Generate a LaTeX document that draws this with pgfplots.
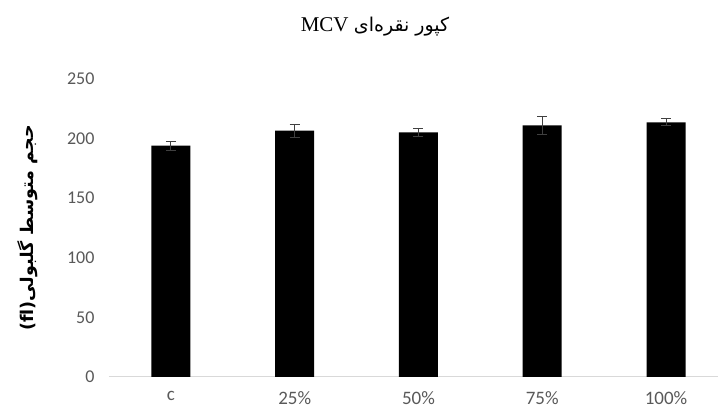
\documentclass[border=0pt]{standalone}
\usepackage{fontspec}
\setmainfont{Liberation Serif}
\newfontfamily\arabicfont[Script=Arabic]{DejaVu Sans}
\newfontfamily\tickfont{Carlito}
\TeXXeTstate=1
\usepackage{pgfplots}
\pgfplotsset{compat=1.18}
\definecolor{tickgray}{HTML}{595959}
\definecolor{axisgray}{HTML}{D9D9D9}
\definecolor{errgray}{HTML}{404040}
\begin{document}
\begin{tikzpicture}
\useasboundingbox (-109pt,-37pt) rectangle (609pt,377pt);
\begin{axis}[
  at={(0pt,0pt)}, anchor=south west,
  scale only axis, width=609pt, height=298pt,
  xmin=-0.5, xmax=4.42, ymin=0, ymax=250,
  axis x line*=bottom, axis y line*=left,
  x axis line style={axisgray, line width=1pt, -},
  y axis line style={draw=none},
  xtick={0,1,2,3,4},
  xticklabels={c,25\%,50\%,75\%,100\%},
  ytick={0,50,100,150,200,250},
  major tick length=0pt,
  tick style={draw=none},
  /pgf/number format/assume math mode=true,
  x tick label style={font=\tickfont\fontsize{19}{19}\selectfont, text=tickgray, yshift=-11pt},
  y tick label style={font=\tickfont\fontsize{18}{18}\selectfont, text=tickgray, xshift=-11pt},
  clip=false,
]
\addplot[ybar, bar width=39pt, fill=black, draw=none,
  error bars/.cd, y dir=both, y explicit,
  error bar style={errgray, line width=1pt},
  error mark options={rotate=90, errgray, mark size=5pt, line width=1pt}]
  coordinates {
  (0,194.0) +- (0,3.7)
  (1,206.6) +- (0,5.5)
  (2,205.3) +- (0,3.5)
  (3,211.0) +- (0,7.5)
  (4,213.7) +- (0,2.8)
  };
\end{axis}
\node[font=\fontsize{21}{21}\selectfont, inner sep=0pt] at (266pt,350pt)
  {MCV {\arabicfont\fontsize{19}{19}\selectfont\beginR کپور نقره‌ای\endR}};
\node[rotate=90, inner sep=0pt] at (-81pt,149pt)
  {{\arabicfont\bfseries\fontsize{17.5}{17.5}\selectfont (fl)\beginR حجم متوسط گلبولی\endR}};
\end{tikzpicture}
\end{document}
